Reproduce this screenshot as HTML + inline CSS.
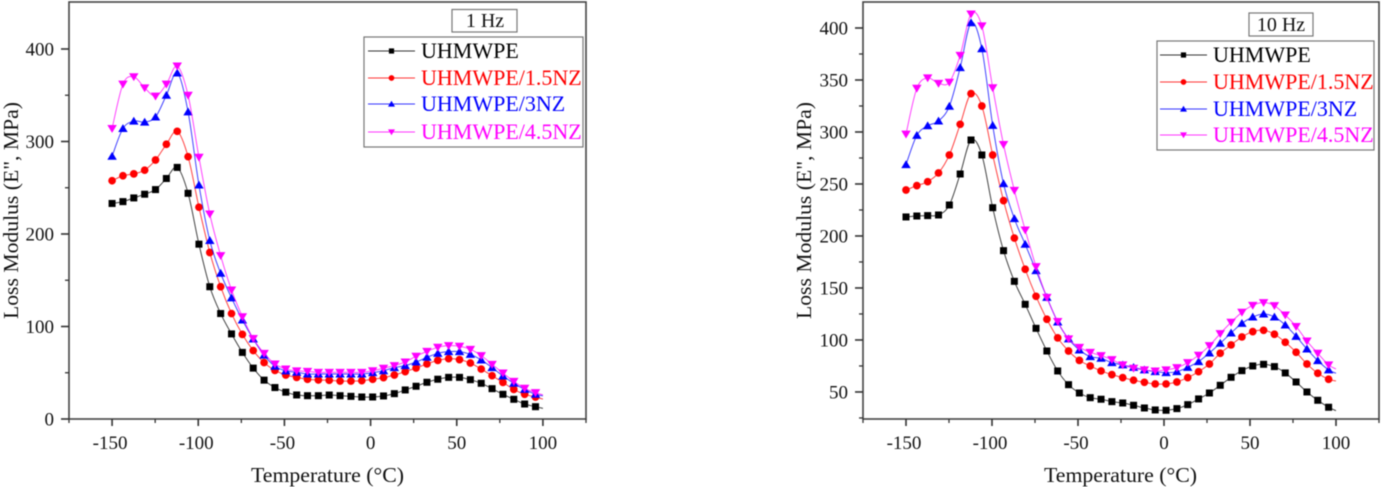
<!DOCTYPE html>
<html>
<head>
<meta charset="utf-8">
<style>
html,body{margin:0;padding:0;background:#fff;width:1382px;height:487px;overflow:hidden}
svg{display:block;filter:blur(0.5px)}
text{font-family:"Liberation Serif",serif;fill:#111}
</style>
</head>
<body>
<svg id="figure" width="1382" height="487" viewBox="0 0 1382 487" xmlns="http://www.w3.org/2000/svg">
  <rect width="1382" height="487" fill="#fff"/>

  <g id="panel-left">
    <rect x="69" y="2" width="517" height="417" fill="none" stroke="#444" stroke-width="1.6"/>
    <g id="marks-left"></g>
    <g id="axes-left"></g>
    <text x="251" y="482" font-size="21" textLength="153" lengthAdjust="spacingAndGlyphs">Temperature (°C)</text>
    <text transform="translate(18,319) rotate(-90)" font-size="21" textLength="217" lengthAdjust="spacingAndGlyphs">Loss Modulus (E", MPa)</text>
    <g>
      <rect x="452" y="9.5" width="65" height="22.5" fill="#fff" stroke="#777" stroke-width="1.2"/>
      <text x="485" y="27" font-size="20" text-anchor="middle">1 Hz</text>
    </g>
    <g id="legend-left">
      <rect x="364" y="37" width="219" height="110" fill="#fff" stroke="#777" stroke-width="1.2"/>
    </g>
  </g>

  <g id="panel-right">
    <rect x="863" y="2" width="516" height="417" fill="none" stroke="#444" stroke-width="1.6"/>
    <g id="marks-right"></g>
    <g id="axes-right"></g>
    <text x="1044" y="482" font-size="21" textLength="153" lengthAdjust="spacingAndGlyphs">Temperature (°C)</text>
    <text transform="translate(811,319) rotate(-90)" font-size="21" textLength="217" lengthAdjust="spacingAndGlyphs">Loss Modulus (E", MPa)</text>
    <g>
      <rect x="1249" y="13" width="64" height="23" fill="#fff" stroke="#777" stroke-width="1.2"/>
      <text x="1281" y="31" font-size="20" text-anchor="middle">10 Hz</text>
    </g>
    <g id="legend-right">
      <rect x="1157" y="41" width="217" height="109" fill="#fff" stroke="#777" stroke-width="1.2"/>
    </g>
  </g>
</svg>

<script>
// Shared x data (the last point is the line end at 100 °C, which carries no marker)
var temperatures = [-150,-143.7,-137.4,-131.1,-124.8,-118.5,-112.2,-105.9,-99.6,-93.3,-87,-80.7,-74.4,-68.1,-61.8,-55.5,-49.2,-42.9,-36.6,-30.3,-24,-17.7,-11.4,-5.1,1.2,7.5,13.8,20.1,26.4,32.7,39,45.3,51.6,57.9,64.2,70.5,76.8,83.1,89.4,95.7,100];

// 1 Hz series
var oneHzNeat = [233,235,239,243,248,260,272,244,189,143,114,92,72,55,42,34,29,26,25.2,25.2,25.9,25.2,24.5,23.8,23.8,24.9,27.4,31.4,35.4,39.7,43,45,45,42.5,38.6,32.8,26.7,21.3,16.2,13.3,11.5];
var oneHz15NZ = [257.6,263,265,269,280,297,311,283.6,229,180,143,114,91.5,74,61,52.6,47.6,45,42.9,42.2,41.8,41,41,41.4,42.9,44.7,47.6,51.2,55.1,59.5,63.4,65.2,64.2,60.5,54,46.8,39.6,32,26.7,23.8,21.5];
var oneHz3NZ = [284,314,322,321,326.5,350,374,332,253,193,157.5,131,107,86.5,69,57,52,50.5,48.6,48.6,48.6,48.6,48.6,48.6,50.1,52.2,55.5,57.7,61.6,66.7,71,72.8,72.8,69.9,63.8,55.5,46.5,38.6,32,26.7,25];
var oneHz45NZ = [314,362,370,358,349,362,381.6,350,283,221.6,176.6,139.5,110.6,87,71,59.5,54,52,51.5,50.4,50.4,50.4,50.4,50.4,52.2,54.8,57.7,61.6,67.9,73.1,77.5,79.3,78.6,75.3,68.5,59.1,49.7,40.7,33.2,28.5,26];

// 10 Hz series
var tenHzNeat = [218.3,219.2,219.6,220.2,229.8,259.6,292.3,277.9,227.2,185.9,156.4,134.3,111.2,89.4,70.2,57,49,44.5,43,40.7,39.4,37.2,34.6,32.7,32.4,34,37.8,43.3,49,56.4,64.1,70.5,75,76.6,74.4,68.3,59.6,50,42,35.3,32];
var tenHz15NZ = [244.2,248.4,252.2,260.6,277.9,307.4,336.9,325,277.9,234,198,168,142,119.9,102,89.4,80.4,75,70.2,66.7,63.8,61.3,59.3,57.7,57.7,59.6,63.8,69.5,76.9,87.2,95.2,102.9,108,109.3,105.5,97.8,88.2,76.9,68,62.2,60.6];
var tenHz3NZ = [268.6,296.8,306,310.6,324.7,361.9,405,380,306.4,250.3,216.7,192,166.7,141,117.3,101,90.4,84,82.4,78.2,76,73.7,71.2,69.5,68.6,69.5,73.7,79.2,87.5,96.8,106.7,116,122.1,125,122.1,114.4,103.5,91.3,80.1,71.2,68];
var tenHz45NZ = [298,342,352,346.8,347.8,373.7,413.5,402,342.6,288,243.9,205.8,170.5,141,117.7,101,92.9,88.1,84.9,81.1,76,72.8,71.2,70.2,71.2,73.4,78.2,85.3,94.5,106.1,117,126.6,133.3,135.9,133,124,113,99,87.2,76,72.1];

// Tick labels and tick values
var xMajorTicks = [-150,-100,-50,0,50,100];
var xMinorTicks = [-175,-125,-75,-25,25,75,125];
var yMajorTicksLeft = [0,100,200,300,400];
var yMinorTicksLeft = [50,150,250,350];
var yMajorTicksRight = [50,100,150,200,250,300,350,400];
var yMinorTicksRight = [25,75,125,175,225,275,325,375];
var seriesNames = ['UHMWPE','UHMWPE/1.5NZ','UHMWPE/3NZ','UHMWPE/4.5NZ'];
var seriesColors = ['#000000','#ff0000','#0000ff','#ff00ff'];
var seriesSlugs = ['uhmwpe','uhmwpe-1-5nz','uhmwpe-3nz','uhmwpe-4-5nz'];

var NS = 'http://www.w3.org/2000/svg';

function make(tag, attrs, parent) {
  var el = document.createElementNS(NS, tag);
  for (var k in attrs) el.setAttribute(k, attrs[k]);
  parent.appendChild(el);
  return el;
}

function scale(dMin, dMax, pMin, pMax) {
  return function (v) { return pMin + (v - dMin) * (pMax - pMin) / (dMax - dMin); };
}

function splinePath(pts) {
  var d = 'M' + pts[0][0].toFixed(2) + ' ' + pts[0][1].toFixed(2);
  for (var i = 0; i < pts.length - 1; i++) {
    var p0 = pts[Math.max(i - 1, 0)], p1 = pts[i], p2 = pts[i + 1], p3 = pts[Math.min(i + 2, pts.length - 1)];
    d += 'C' + (p1[0] + (p2[0] - p0[0]) / 6).toFixed(2) + ' ' + (p1[1] + (p2[1] - p0[1]) / 6).toFixed(2) + ' ' +
         (p2[0] - (p3[0] - p1[0]) / 6).toFixed(2) + ' ' + (p2[1] - (p3[1] - p1[1]) / 6).toFixed(2) + ' ' +
         p2[0].toFixed(2) + ' ' + p2[1].toFixed(2);
  }
  return d;
}

function drawMarker(kind, cx, cy, color, parent, r) {
  var m;
  if (kind === 0) {
    m = make('rect', {x: cx - r, y: cy - r, width: 2 * r, height: 2 * r, fill: color}, parent);
  } else if (kind === 1) {
    m = make('circle', {cx: cx, cy: cy, r: r * 1.1, fill: color}, parent);
  } else if (kind === 2) {
    m = make('polygon', {points: (cx - r * 1.35) + ',' + (cy + r) + ' ' + (cx + r * 1.35) + ',' + (cy + r) + ' ' + cx + ',' + (cy - r * 1.25), fill: color}, parent);
  } else {
    m = make('polygon', {points: (cx - r * 1.35) + ',' + (cy - r) + ' ' + (cx + r * 1.35) + ',' + (cy - r) + ' ' + cx + ',' + (cy + r * 1.25), fill: color}, parent);
  }
  return m;
}

function drawSeries(parent, allSeries, x, y, tag) {
  allSeries.forEach(function (values, s) {
    var g = make('g', {}, parent);
    
    
    var pts = values.map(function (v, i) { return [x(temperatures[i]), y(v)]; });
    var line = make('path', {d: splinePath(pts), fill: 'none', stroke: seriesColors[s], 'stroke-width': 1, 'stroke-opacity': 0.75}, g);
    
    
    pts.slice(0, pts.length - 1).forEach(function (p) {
      var mk = drawMarker(s, p[0], p[1], seriesColors[s], g, 3.5);
      
      
    });
  });
}

function drawAxes(parent, x, y, yMajor, yMinor, left, bottom, tag) {
  var ax = '#333';
  xMajorTicks.forEach(function (t) {
    var tick = make('line', {x1: x(t), x2: x(t), y1: bottom, y2: bottom + 7, stroke: ax, 'stroke-width': 1.6}, parent);
    
    
    var lab = make('text', {x: x(t) - (t < 0 ? 2 : 0), y: 449, 'font-size': 19, 'text-anchor': 'middle'}, parent);
    lab.textContent = String(t);
    
    
  });
  xMinorTicks.forEach(function (t) {
    var tick = make('line', {x1: x(t), x2: x(t), y1: bottom, y2: bottom + 4, stroke: ax, 'stroke-width': 1.3}, parent);
    
    
  });
  yMajor.forEach(function (v) {
    var tick = make('line', {x1: left - 8, x2: left, y1: y(v), y2: y(v), stroke: ax, 'stroke-width': 1.6}, parent);
    
    
    var lab = make('text', {x: left - 15, y: y(v) + 6.5, 'font-size': 19, 'text-anchor': 'end'}, parent);
    lab.textContent = String(v);
    
    
  });
  yMinor.forEach(function (v) {
    var tick = make('line', {x1: left - 4, x2: left, y1: y(v), y2: y(v), stroke: ax, 'stroke-width': 1.3}, parent);
    
    
  });
}

function drawLegend(parent, lineX1, lineX2, textX, rows, tag) {
  seriesNames.forEach(function (name, s) {
    var g = make('g', {}, parent);
    
    
    make('line', {x1: lineX1, x2: lineX2, y1: rows[s], y2: rows[s], stroke: seriesColors[s], 'stroke-width': 1, 'stroke-opacity': 0.8}, g);
    drawMarker(s, (lineX1 + lineX2) / 2, rows[s], seriesColors[s], g, 2.6);
    var t = make('text', {x: textX, y: rows[s] + 7, 'font-size': 22}, g);
    t.style.fill = seriesColors[s];
    t.textContent = name;
  });
}

var xLeft = scale(-175, 125, 69, 586);
var yLeft = scale(0, 450.8, 419, 2);
var xRight = scale(-175, 125, 863, 1379);
var yRight = scale(24, 425, 419, 2);

drawSeries(document.getElementById('marks-left'), [oneHzNeat, oneHz15NZ, oneHz3NZ, oneHz45NZ], xLeft, yLeft, '1hz');
drawSeries(document.getElementById('marks-right'), [tenHzNeat, tenHz15NZ, tenHz3NZ, tenHz45NZ], xRight, yRight, '10hz');
drawAxes(document.getElementById('axes-left'), xLeft, yLeft, yMajorTicksLeft, yMinorTicksLeft, 69, 419, '1hz');
drawAxes(document.getElementById('axes-right'), xRight, yRight, yMajorTicksRight, yMinorTicksRight, 863, 419, '10hz');
drawLegend(document.getElementById('legend-left'), 368, 415, 421, [51, 78, 104, 132], '1hz');
drawLegend(document.getElementById('legend-right'), 1160, 1207, 1213, [55, 82, 109, 135], '10hz');
</script>
</body>
</html>
